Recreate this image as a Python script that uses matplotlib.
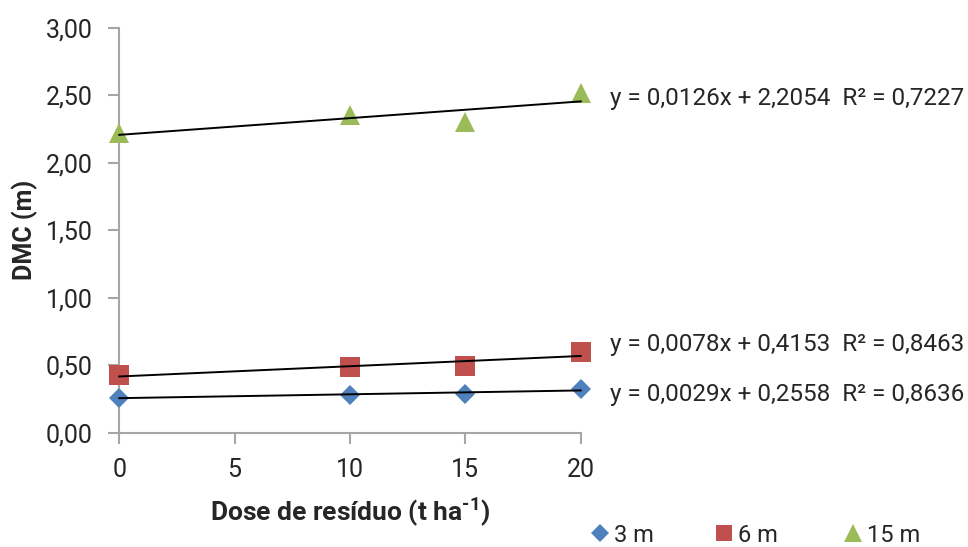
import matplotlib
matplotlib.use("Agg")
import matplotlib.pyplot as plt
import numpy as np
from matplotlib.lines import Line2D

dose = [0, 10, 15, 20]
dmc_3m = [0.26, 0.283, 0.288, 0.323]
dmc_6m = [0.43, 0.485, 0.495, 0.60]
dmc_15m = [2.22, 2.355, 2.30, 2.515]
series_names = ["3 m", "6 m", "15 m"]
equations = ["y = 0,0029x + 0,2558  R² = 0,8636",
             "y = 0,0078x + 0,4153  R² = 0,8463",
             "y = 0,0126x + 2,2054  R² = 0,7227"]
xticks = [0, 5, 10, 15, 20]
yticks = [0.0, 0.5, 1.0, 1.5, 2.0, 2.5, 3.0]

colors = ["#4F81BD", "#C0504D", "#9BBB59"]
markers = ["D", "s", "^"]
msizes = [10.5, 14, 14.5]

plt.rcParams["mathtext.fontset"] = "custom"
plt.rcParams["mathtext.rm"] = "Roboto:bold"
plt.rcParams["mathtext.bf"] = "Roboto:bold"
plt.rcParams["mathtext.default"] = "rm"

label_font = ["Roboto", "DejaVu Sans"]
eq_font = ["Roboto", "DejaVu Sans"]
txt = "#262626"

fig = plt.figure(figsize=(9.68, 5.47), dpi=100)
ax = fig.add_axes([0.1232, 0.2089, 0.5999 - 0.1232, 0.9488 - 0.2089])

data = [dmc_3m, dmc_6m, dmc_15m]
eq_y = [395, 345, 99]
for vals, c, m, ms, eq, ey in zip(data, colors, markers, msizes, equations, eq_y):
    ax.plot(dose, vals, linestyle="none", marker=m, markersize=ms, color=c,
            markeredgewidth=0, zorder=3, clip_on=False)
    coef = np.polyfit(dose, vals, 1)
    xx = np.array([min(dose), max(dose)])
    ax.plot(xx, np.polyval(coef, xx), color="black", linewidth=1.4, zorder=4, clip_on=False)
    fig.text(610 / 968, 1 - ey / 547, eq, fontsize=17.5, family=eq_font,
             color=txt, va="center", ha="left")

ax.set_xlim(0, 20)
ax.set_ylim(0, 3)
ax.set_xticks(xticks)
ax.set_yticks(yticks)
ax.set_xticklabels([str(t) for t in xticks], family=label_font, fontsize=18, color=txt)
ax.set_yticklabels([f"{t:.2f}".replace(".", ",") for t in yticks], family=label_font,
                   fontsize=18, color=txt)
for s in ["top", "right"]:
    ax.spines[s].set_visible(False)
for s in ["left", "bottom"]:
    ax.spines[s].set_color("#A6A6A6")
    ax.spines[s].set_linewidth(1.5)
ax.tick_params(axis="y", direction="out", length=8, width=1.5, color="#A6A6A6", pad=11)
ax.tick_params(axis="x", direction="out", length=8, width=1.5, color="#A6A6A6", pad=10)

ax.set_ylabel("DMC (m)", family=label_font, fontsize=18, fontweight="bold", color=txt,
              labelpad=6)
ax.set_xlabel(r"Dose de resíduo (t ha$^{\text{-1}}$)", family=label_font, fontsize=19,
              fontweight="bold", color=txt, labelpad=10)

leg_x = [588, 712, 841]
for name, c, m, ms, lx in zip(series_names, colors, markers, msizes, leg_x):
    h = Line2D([], [], linestyle="none", marker=m, color=c, markersize=ms * 0.85,
               markeredgewidth=0)
    fig.legend([h], [name], loc="center left", bbox_to_anchor=(lx / 968, 1 - 535 / 547),
               frameon=False, prop={"family": label_font, "size": 17},
               handletextpad=0.1, handlelength=1.0, borderpad=0, borderaxespad=0,
               labelcolor=txt)

fig.savefig("out.png", dpi=100)
